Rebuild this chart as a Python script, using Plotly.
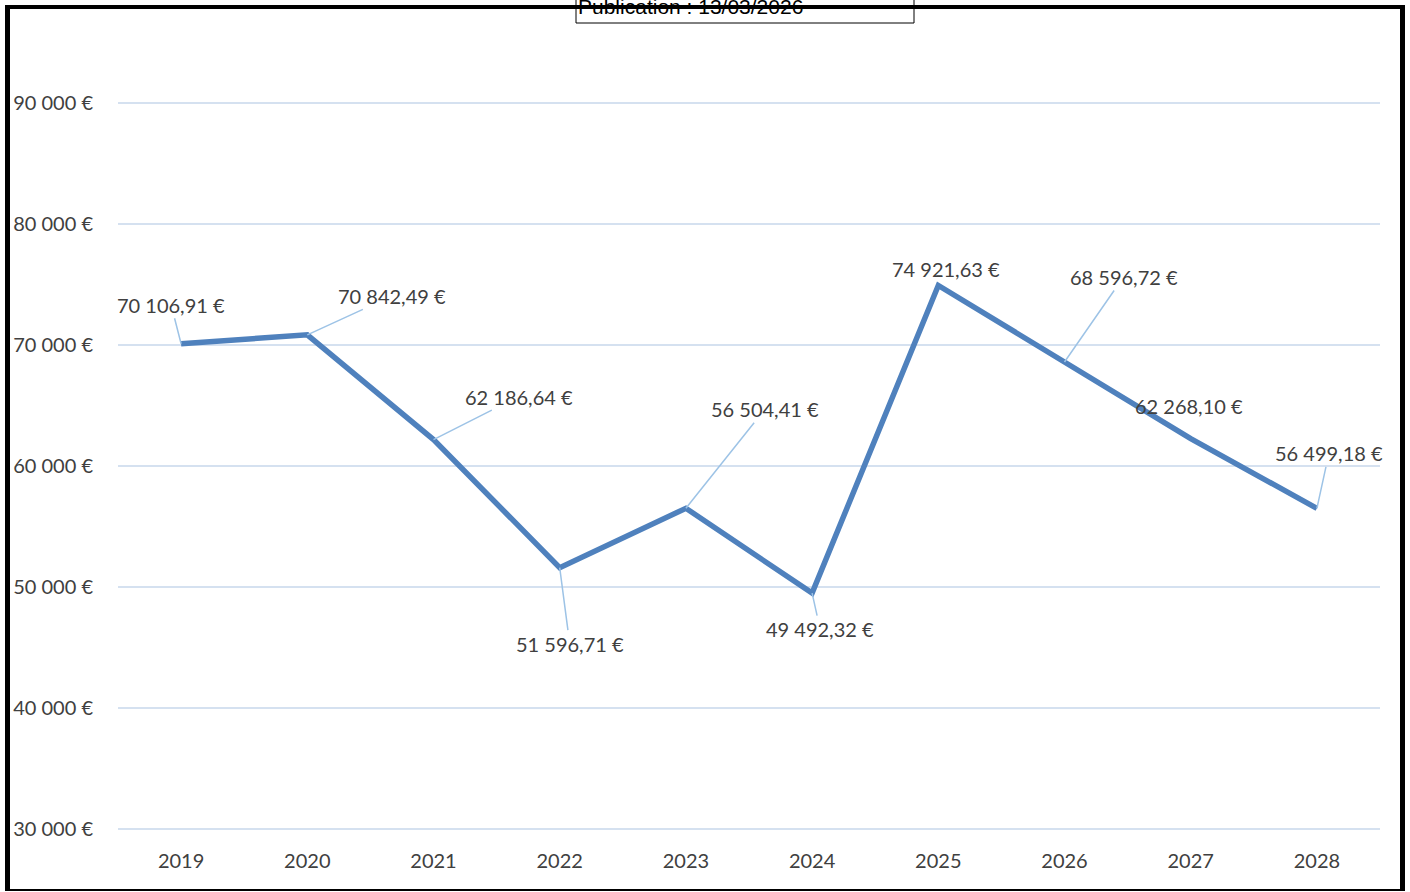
import plotly.graph_objects as go

years = ["2019", "2020", "2021", "2022", "2023", "2024", "2025", "2026", "2027", "2028"]
values = [70106.91, 70842.49, 62186.64, 51596.71, 56504.41, 49492.32, 74921.63, 68596.72, 62268.10, 56499.18]
# label offsets in pixels (dx, dy) relative to point; leader flag
label_dx = [-10, 85, 85, 10, 79, 8, 8, 59, -2, 12]
label_dy = [-39, -39, -43, 76, -99, 36, -16, -85, -33, -55]
leader = [True, True, True, True, True, True, False, True, False, True]
y_ticks = [30000, 40000, 50000, 60000, 70000, 80000, 90000]
pub_text = "Publication : 13/03/2026"

W, H = 1410, 892
L, R, T, B = 118, 30, 101, 61
pw, ph = W - L - R, H - T - B


def px_x(x):
    return (x - L) / pw


def px_y(y):
    return (H - B - y) / ph


def fmt(v, dec=2):
    s = f"{v:,.{dec}f}"
    return s.replace(",", " ").replace(".", ",") + " €"


FONT = "Lato"
FS = 20
TXT = "#404040"
LINE = "#4F81BD"
LEADER = "#9DC3E6"

fig = go.Figure()
fig.add_trace(go.Scatter(
    x=years, y=values, mode="lines",
    line=dict(color=LINE, width=5.5),
    hoverinfo="skip", showlegend=False,
))

annotations = []
for i, (v, dx, dy, ld) in enumerate(zip(values, label_dx, label_dy, leader)):
    if ld:
        annotations.append(dict(
            x=i, y=v, xref="x", yref="y", text=fmt(v),
            showarrow=True, arrowhead=0, arrowwidth=1.5, arrowcolor=LEADER,
            ax=dx, ay=dy, font=dict(family=FONT, size=FS, color=TXT),
        ))
    else:
        annotations.append(dict(
            x=i, y=v, xref="x", yref="y", text=fmt(v),
            showarrow=False, xshift=dx, yshift=-dy,
            font=dict(family=FONT, size=FS, color=TXT),
        ))

annotations.append(dict(
    x=px_x(577), y=px_y(19), xref="paper", yref="paper", text=pub_text,
    showarrow=False, xanchor="left", yanchor="bottom",
    font=dict(family="Liberation Sans", size=21, color="#000000"),
    borderpad=0,
))

shapes = [
    dict(type="rect", xref="paper", yref="paper",
         x0=px_x(576), x1=px_x(914), y0=px_y(23), y1=px_y(-5),
         line=dict(color="#000000", width=1), fillcolor="rgba(0,0,0,0)"),
    dict(type="line", xref="paper", yref="paper",
         x0=px_x(7.5), x1=px_x(7.5), y0=px_y(5), y1=px_y(891),
         line=dict(color="#000000", width=5)),
    dict(type="line", xref="paper", yref="paper",
         x0=px_x(5), x1=px_x(1405), y0=px_y(7), y1=px_y(7),
         line=dict(color="#000000", width=4)),
    dict(type="line", xref="paper", yref="paper",
         x0=px_x(1402.5), x1=px_x(1402.5), y0=px_y(5), y1=px_y(891),
         line=dict(color="#000000", width=5)),
    dict(type="line", xref="paper", yref="paper",
         x0=px_x(5), x1=px_x(1405), y0=px_y(890), y1=px_y(890),
         line=dict(color="#000000", width=2)),
]

fig.update_layout(
    width=W, height=H,
    margin=dict(l=L, r=R, t=T, b=B, autoexpand=False),
    paper_bgcolor="white", plot_bgcolor="white",
    font=dict(family=FONT, size=FS, color=TXT),
    xaxis=dict(type="category", categoryorder="array", categoryarray=years,
               range=[-0.5, 9.5], showgrid=False, showline=False, zeroline=False,
               ticks="outside", ticklen=12, tickcolor="rgba(0,0,0,0)",
               tickfont=dict(family=FONT, size=FS, color=TXT), automargin=False),
    yaxis=dict(range=[29830, 90170], tickmode="array", tickvals=y_ticks,
               ticktext=[fmt(v, 0) for v in y_ticks],
               showgrid=True, gridcolor="#D5E1F0", gridwidth=2, zeroline=False,
               showline=False, ticks="outside", ticklen=20, tickcolor="rgba(0,0,0,0)",
               tickfont=dict(family=FONT, size=FS, color=TXT), automargin=False),
    annotations=annotations,
    shapes=shapes,
    showlegend=False,
)

fig.write_html("out.html", config={"displayModeBar": False},
               post_script="document.body.style.margin='0';document.body.style.overflow='hidden';")
